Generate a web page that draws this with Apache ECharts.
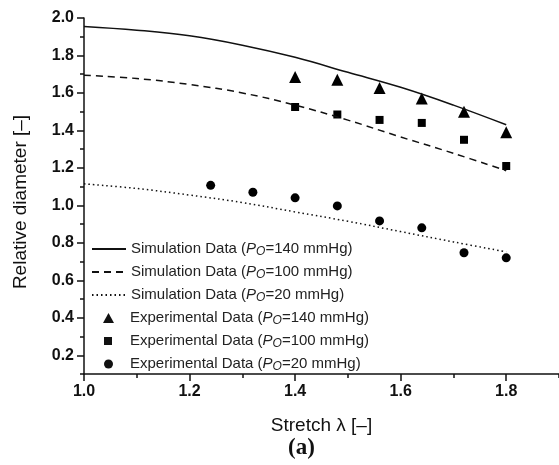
<!DOCTYPE html>
<html>
<head>
<meta charset="utf-8">
<script src="https://cdn.jsdelivr.net/npm/echarts@6/dist/echarts.min.js"></script>
<style>html,body{margin:0;padding:0;background:#fff}#c{width:559px;height:465px}</style>
</head>
<body>
<div id="c"></div>
<script>
// ---- data ----
const xSim = [1.0, 1.1, 1.2, 1.3, 1.4, 1.5, 1.6, 1.7, 1.8];
const sim140 = [1.955, 1.935, 1.905, 1.855, 1.79, 1.71, 1.63, 1.535, 1.43];
const sim100 = [1.695, 1.677, 1.645, 1.60, 1.535, 1.455, 1.365, 1.278, 1.185];
const sim20 = [1.115, 1.09, 1.055, 1.015, 0.965, 0.915, 0.86, 0.805, 0.752];
const xExp = [1.4, 1.48, 1.56, 1.64, 1.72, 1.8];
const exp140 = [1.685, 1.67, 1.627, 1.57, 1.50, 1.39];
const exp100 = [1.525, 1.485, 1.456, 1.44, 1.35, 1.21];
const xExp20 = [1.24, 1.32, 1.4, 1.48, 1.56, 1.64, 1.72, 1.8];
const exp20 = [1.107, 1.07, 1.04, 0.997, 0.917, 0.88, 0.747, 0.72];
const xTicks = [1.0, 1.2, 1.4, 1.6, 1.8];
const xMinorTicks = [1.1, 1.3, 1.5, 1.7, 1.9];
const yTicks = [0.2, 0.4, 0.6, 0.8, 1.0, 1.2, 1.4, 1.6, 1.8, 2.0];
const yMinorTicks = [0.1, 0.3, 0.5, 0.7, 0.9, 1.1, 1.3, 1.5, 1.7, 1.9];
const pressures = ['140', '100', '20', '140', '100', '20'];
const kinds = ['Simulation Data', 'Simulation Data', 'Simulation Data', 'Experimental Data', 'Experimental Data', 'Experimental Data'];
const names = ['s140', 's100', 's20', 'e140', 'e100', 'e20'];

const zip = (xs, ys) => xs.map((x, i) => [x, ys[i]]);
const ink = '#111';
const txt = '#222';
const FONT = 'Liberation Sans, Arial, sans-serif';

const chart = echarts.init(document.getElementById('c'), null, {renderer: 'canvas'});

// legend icon geometry (layout only)
const iconCfg = [
  {w: 34, h: 11, line: true},
  {w: 34, h: 11, line: true},
  {w: 34, h: 11, line: true},
  {w: 11, h: 10, icon: 'triangle'},
  {w: 8, h: 8, icon: 'rect'},
  {w: 9, h: 9, icon: 'circle'}
];
const iconCenter = 108, textStart = 130;

const legends = names.map((nm, k) => {
  const c = iconCfg[k];
  const left = Math.round(iconCenter - c.w / 2);
  const pad = Math.max(0, textStart - (left + c.w + 5));
  const item = c.line
    ? {name: nm, itemStyle: {opacity: 0, color: 'transparent', borderWidth: 0}}
    : {name: nm, icon: c.icon, itemStyle: {color: ink, opacity: 1}};
  return {
    left: left, top: 238 + 23 * k, orient: 'vertical',
    itemWidth: c.w, itemHeight: c.h, padding: 0,
    data: [item],
    textStyle: {
      fontFamily: FONT, fontSize: 15, color: txt, lineHeight: 18,
      rich: {
        g: {width: pad, lineHeight: 18},
        n: {fontFamily: FONT, fontSize: 15, color: txt, lineHeight: 18},
        i: {fontFamily: FONT, fontSize: 15, color: txt, fontStyle: 'italic', lineHeight: 18},
        s: {fontFamily: FONT, fontSize: 12, color: txt, fontStyle: 'italic', verticalAlign: 'bottom', lineHeight: 18, padding: [8, 0, 0, 0]}
      }
    },
    formatter: function (name) {
      const j = names.indexOf(name);
      return '{g|}{n|' + kinds[j] + ' (}{i|P}{s|O}{n|=' + pressures[j] + ' mmHg)}';
    }
  };
});

const option = {
  animation: false,
  backgroundColor: '#fff',
  grid: {left: 84, right: -2, top: 18, bottom: 91, containLabel: false},
  xAxis: [
    {
      type: 'value', min: 1.0, max: 1.9,
      axisLine: {show: true, lineStyle: {color: ink, width: 1.5}}, splitLine: {show: false},
      name: 'Stretch λ [–]', nameLocation: 'middle', nameGap: 42,
      nameTextStyle: {fontFamily: FONT, fontSize: 19, color: ink},
      axisTick: {show: true, inside: false, length: 7, lineStyle: {color: ink, width: 1.5}, customValues: xTicks},
      axisLabel: {customValues: xTicks, fontFamily: FONT, fontSize: 16, fontWeight: 'bold', color: ink, margin: 10,
        formatter: v => v.toFixed(1)}
    },
    {
      type: 'value', min: 1.0, max: 1.9, position: 'bottom',
      axisLine: {show: false}, splitLine: {show: false},
      axisTick: {show: true, length: 4, lineStyle: {color: ink, width: 1.5}, customValues: xMinorTicks},
      axisLabel: {show: false}
    }
  ],
  yAxis: [
    {
      type: 'value', min: 0.1, max: 2.0,
      axisLine: {show: true, lineStyle: {color: ink, width: 1.5}}, splitLine: {show: false},
      name: 'Relative diameter [–]', nameLocation: 'middle', nameGap: 54,
      nameTextStyle: {fontFamily: FONT, fontSize: 19, color: ink, padding: [0, 12, 0, 0]},
      axisTick: {show: true, inside: false, length: 7, lineStyle: {color: ink, width: 1.5}, customValues: yTicks},
      axisLabel: {customValues: yTicks, fontFamily: FONT, fontSize: 16, fontWeight: 'bold', color: ink, margin: 10,
        formatter: v => v.toFixed(1)}
    },
    {
      type: 'value', min: 0.1, max: 2.0, position: 'left',
      axisLine: {show: false}, splitLine: {show: false},
      axisTick: {show: true, length: 4, lineStyle: {color: ink, width: 1.5}, customValues: yMinorTicks},
      axisLabel: {show: false}
    }
  ],
  legend: legends,
  graphic: [{
    type: 'text', left: 288, top: 437,
    style: {text: '(a)', font: 'bold 23px "Liberation Serif", "Times New Roman", serif', fill: ink}
  }],
  series: [
    {name: 's140', type: 'line', data: zip(xSim, sim140), symbol: 'none', smooth: 0.4,
      lineStyle: {color: ink, width: 1.5, type: 'solid'}, itemStyle: {color: ink}},
    {name: 's100', type: 'line', data: zip(xSim, sim100), symbol: 'none', smooth: 0.4,
      lineStyle: {color: ink, width: 1.5, type: [7, 5]}, itemStyle: {color: ink}},
    {name: 's20', type: 'line', data: zip(xSim, sim20), symbol: 'none', smooth: 0.4,
      lineStyle: {color: ink, width: 1.5, type: [1.5, 3]}, itemStyle: {color: ink}},
    {name: 'e140', type: 'scatter', data: zip(xExp, exp140), symbol: 'triangle', symbolSize: 12,
      itemStyle: {color: '#000', opacity: 1}},
    {name: 'e100', type: 'scatter', data: zip(xExp, exp100), symbol: 'rect', symbolSize: 8,
      itemStyle: {color: '#000', opacity: 1}},
    {name: 'e20', type: 'scatter', data: zip(xExp20, exp20), symbol: 'circle', symbolSize: 9,
      itemStyle: {color: '#000', opacity: 1}}
  ]
};
chart.setOption(option);
</script>
</body>
</html>
